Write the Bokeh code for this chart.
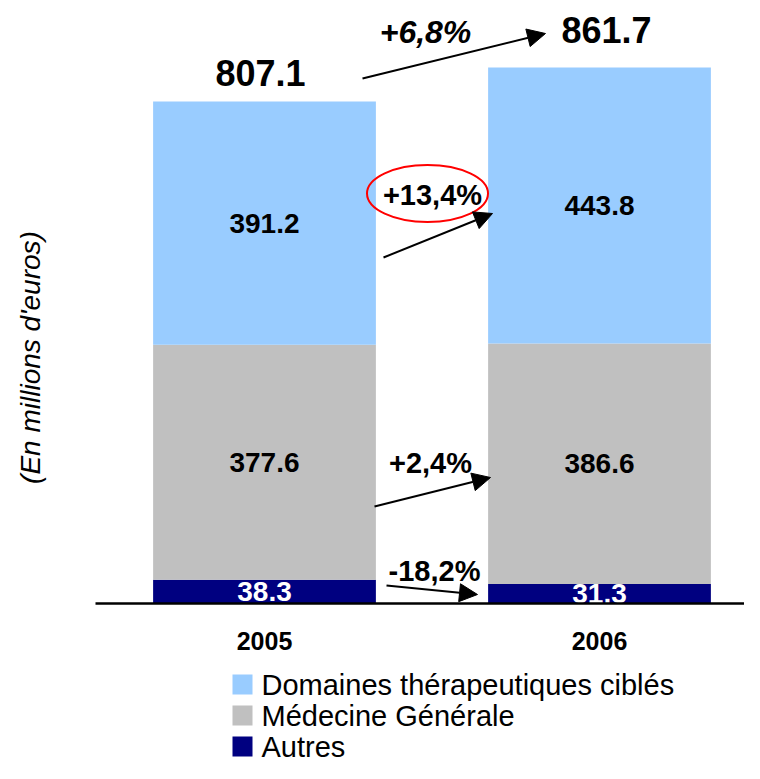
import math
from bokeh.plotting import figure
from bokeh.models import Range1d, Arrow, NormalHead, ColumnDataSource
from bokeh.core.properties import value
from bokeh.embed import file_html
from bokeh.resources import INLINE

# ---------------- data ----------------
years = ["2005", "2006"]
autres = [38.3, 31.3]
medecine = [377.6, 386.6]
domaines = [391.2, 443.8]
totals = [807.1, 861.7]
series_names = ["Domaines thérapeutiques ciblés", "Médecine Générale", "Autres"]
growth_labels = ["+6,8%", "+13,4%", "+2,4%", "-18,2%"]
axis_title = "(En millions d'euros)"

# ---------------- layout / style ----------------
C_DOM = "#99CCFF"
C_MED = "#C0C0C0"
C_AUT = "#000080"
FONT = "Liberation Sans"

W, H = 744, 763
PX_PER_X = 335.0          # pixels per category step
X0 = -264 / PX_PER_X
X1 = X0 + W / PX_PER_X
PX_PER_Y = 0.622          # pixels per million euros
BASE = 603                # pixel row of the zero line
Y0 = -(H - BASE) / PX_PER_Y
Y1 = BASE / PX_PER_Y


def dx(px):
    return X0 + px / PX_PER_X


def dy(py):
    return (BASE - py) / PX_PER_Y


p = figure(width=W, height=H, x_range=Range1d(X0, X1), y_range=Range1d(Y0, Y1),
           output_backend="svg", toolbar_location=None, min_border=0,
           x_axis_type=None, y_axis_type=None, outline_line_color=None)
p.grid.visible = False
p.background_fill_color = "white"
p.border_fill_color = "white"

xs = list(range(len(years)))
src = ColumnDataSource(dict(x=xs, autres=autres, medecine=medecine, domaines=domaines))
p.vbar_stack(["autres", "medecine", "domaines"], x="x", width=0.665,
             color=[C_AUT, C_MED, C_DOM], line_color=None, source=src)

# segment value labels
for vals, bottoms, col in [
    (autres, [0, 0], "white"),
    (medecine, autres, "black"),
    (domaines, [a + m for a, m in zip(autres, medecine)], "black"),
]:
    mids = [b + v / 2 for b, v in zip(bottoms, vals)]
    p.text(x=xs, y=mids, text=[f"{v:.1f}" for v in vals], text_align="center",
           text_baseline="middle", text_font=value(FONT), text_font_style="bold",
           text_font_size="28px", text_color=col)

# totals
tot_xoff = [-4, 7]
tot_yoff = [-28, -38]
p.text(x=xs, y=totals, text=[f"{t:.1f}" for t in totals], x_offset=tot_xoff,
       y_offset=tot_yoff, text_align="center", text_baseline="middle",
       text_font=value(FONT), text_font_style="bold", text_font_size="36px",
       text_color="black")

# zero line
p.segment(x0=[dx(95)], y0=[0], x1=[dx(760)], y1=[0], line_color="black", line_width=2.5)

# year labels
p.text(x=xs, y=[dy(640)] * 2, text=years, text_align="center", text_baseline="middle",
       text_font=value(FONT), text_font_style="bold", text_font_size="25px",
       text_color="black")

# y axis title
p.text(x=[dx(30)], y=[dy(357)], text=[axis_title], angle=math.pi / 2,
       text_align="center", text_baseline="middle", text_font=value(FONT),
       text_font_style="italic", text_font_size="28px", text_color="black")

# growth labels
g_pos = [(425, 31), (432, 194), (430, 462), (434, 570)]
g_style = ["bold italic", "bold", "bold", "bold"]
g_size = ["32px", "29px", "29px", "29px"]
for lab, (gx, gy), st, sz in zip(growth_labels, g_pos, g_style, g_size):
    p.text(x=[dx(gx)], y=[dy(gy)], text=[lab], text_align="center",
           text_baseline="middle", text_font=value(FONT), text_font_style=st,
           text_font_size=sz, text_color="black")

# red ellipse around +13,4%
p.ellipse(x=[dx(427)], y=[dy(193)], width=121, height=57, width_units="screen",
          height_units="screen", fill_color=None, line_color="#FF0000", line_width=2)

# arrows
arrows = [((362, 78), (545, 33)), ((383, 257), (492, 213)),
          ((374, 506), (490, 477)), ((386, 585), (477, 594))]
for (sx, sy), (ex, ey) in arrows:
    p.add_layout(Arrow(end=NormalHead(size=18, fill_color="black", line_color="black"),
                       x_start=dx(sx), y_start=dy(sy), x_end=dx(ex), y_end=dy(ey),
                       line_color="black", line_width=2))

# legend (manual)
leg_cols = [C_DOM, C_MED, C_AUT]
leg_y = [684, 715, 746]
p.rect(x=[dx(242)] * 3, y=[dy(v) for v in leg_y], width=20, height=20,
       width_units="screen", height_units="screen", fill_color=leg_cols, line_color=None)
p.text(x=[dx(261)] * 3, y=[dy(v) for v in leg_y], text=series_names, text_align="left",
       text_baseline="middle", text_font=value(FONT), text_font_size="29px",
       text_color="black")

open("out.html", "w").write(file_html(p, INLINE))
